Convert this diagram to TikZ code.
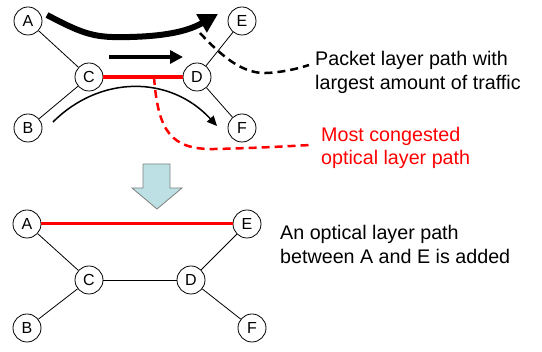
\documentclass[tikz,border=0pt]{standalone}
\usepackage{fontspec}
\setmainfont{Liberation Sans}
\usetikzlibrary{arrows.meta}
\definecolor{arrowfill}{HTML}{BCE0E3}
\definecolor{pured}{HTML}{FF0000}
\begin{document}
\begin{tikzpicture}[x=1pt,y=-1pt,
  nd/.style={circle,draw,line width=0.8pt,minimum size=28pt,inner sep=0pt,font=\fontsize{16}{16}\selectfont},
  edge/.style={line width=0.8pt},
  lbl/.style={font=\fontsize{19.7}{23.3}\selectfont,align=left,inner sep=0pt,anchor=base west},
  reddash/.style={pured,line width=2.5pt,dash pattern=on 8pt off 5pt},
  blackdash/.style={black,line width=2.5pt,dash pattern=on 8pt off 5pt}]
\useasboundingbox (0,0) rectangle (542,352);
% top graph
\node[nd] (A) at (28,21) {A};
\node[nd] (E) at (242,21) {E};
\node[nd] (C) at (89,77) {C};
\node[nd] (D) at (197,77) {D};
\node[nd] (B) at (28,128) {B};
\node[nd] (F) at (242,128) {F};
\draw[edge] (A) -- (C);
\draw[edge] (B) -- (C);
\draw[edge] (D) -- (E);
\draw[edge] (D) -- (F);
\draw[pured,line width=4pt] (C) -- (D);
% arrows
\coordinate (p1s) at (47,15);
\coordinate (p1m) at (130,37);
\coordinate (p1e) at (218,14);
\draw[line width=6pt,-{Triangle[length=19pt,width=20pt]}] (p1s) .. controls (85,35) and (95,38) .. (p1m) .. controls (170,36) and (190,30) .. (p1e);
\coordinate (p2s) at (109,57);
\coordinate (p2e) at (183,57);
\draw[line width=4pt,-{Triangle[length=13pt,width=13pt]}] (p2s) -- (p2e);
\coordinate (p3s) at (53,122);
\coordinate (p3e) at (217,126);
\draw[line width=1.5pt,-{Triangle[length=10pt,width=9pt]}] (p3s) .. controls (100,75) and (170,75) .. (p3e);
% dashed callouts
\coordinate (d1s) at (200,33);
\coordinate (d1m) at (267,73);
\coordinate (d1e) at (309,65);
\draw[blackdash] (d1s) .. controls (225,60) and (245,74) .. (d1m) .. controls (285,72) and (300,68) .. (d1e);
\coordinate (d2s) at (154,77);
\coordinate (d2m) at (215,149);
\coordinate (d2e) at (311,145);
\draw[reddash] (d2s) .. controls (158,130) and (170,150) .. (d2m) .. controls (260,148) and (290,146) .. (d2e);
% texts
\node[lbl] (t1) at (315,89.3) {Packet layer path with\\largest amount of traffic};
\node[lbl,text=pured] (t2) at (321,165) {Most congested\\optical layer path};
\node[lbl] (t3) at (280,263.3) {An optical layer path\\between A and E is added};
% block arrow
\draw[fill=arrowfill,draw=gray,line width=0.8pt] (143,164) -- (170,164) -- (170,188) -- (182,188) -- (157,209) -- (132,188) -- (143,188) -- cycle;
% bottom graph
\node[nd] (A2) at (27,224) {A};
\node[nd] (E2) at (247,224) {E};
\node[nd] (C2) at (89,280) {C};
\node[nd] (D2) at (191,280) {D};
\node[nd] (B2) at (27,328) {B};
\node[nd] (F2) at (252,328) {F};
\draw[edge] (A2) -- (C2);
\draw[edge] (B2) -- (C2);
\draw[edge] (C2) -- (D2);
\draw[edge] (D2) -- (E2);
\draw[edge] (D2) -- (F2);
\draw[pured,line width=3pt] (A2) -- (E2);
\end{tikzpicture}
\end{document}
